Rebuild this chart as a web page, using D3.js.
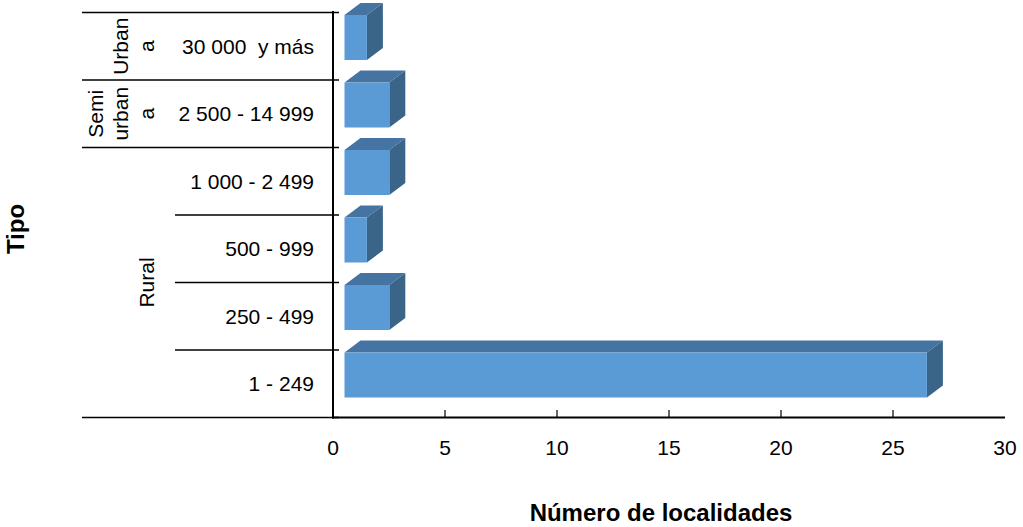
<!DOCTYPE html>
<html><head><meta charset="utf-8">
<script src="https://cdn.jsdelivr.net/npm/d3@7"></script>
<style>body{margin:0;background:#fff}svg{display:block;font-family:"Liberation Sans",Arial,sans-serif}text{white-space:pre}</style>
</head><body><svg id="c" width="1023" height="527"></svg>
<script>
const categories = ["30 000  y más","2 500 - 14 999","1 000 - 2 499","500 - 999","250 - 499","1 - 249"];
const values = [1, 2, 2, 1, 2, 26];
const groups = [
  {name:["Urban","a"], from:0, to:0},
  {name:["Semi","urban","a"], from:1, to:1},
  {name:["Rural"], from:2, to:5}
];
const xTicks = [0,5,10,15,20,25,30];

const svg = d3.select("#c");
const x = d3.scaleLinear().domain([0,30]).range([333,1005]);
const y = d3.scaleBand().domain(categories).range([12.5,417.5]).padding(0);
const dx = 16, dy = 12;
const frontC = "#5b9bd5", topC = "#4674a2", sideC = "#3b6489";
const fs = 21;

const g = svg.append("g");
categories.forEach((c,i)=>{
  const x0 = x(0)+11.5, x1 = x0 + (x(values[i])-x(0));
  const y0 = y(c)+2.5, y1 = y0+45;
  g.append("path").attr("d",`M${x0},${y0}L${x0+dx},${y0-dy}L${x1+dx},${y0-dy}L${x1},${y0}Z`).attr("fill",topC);
  g.append("path").attr("d",`M${x1},${y0}L${x1+dx},${y0-dy}L${x1+dx},${y1-dy}L${x1},${y1}Z`).attr("fill",sideC);
  g.append("rect").attr("x",x0).attr("y",y0).attr("width",x1-x0).attr("height",y1-y0).attr("fill",frontC);
});

const xa = svg.append("g");
xa.append("line").attr("x1",332).attr("x2",1005).attr("y1",417.5).attr("y2",417.5).attr("stroke","#000").attr("stroke-width",2);
xTicks.forEach(t=>{
  if(t>0 && t<30) xa.append("line").attr("x1",x(t)).attr("x2",x(t)).attr("y1",417).attr("y2",410).attr("stroke","#000").attr("stroke-width",1.2);
  xa.append("text").attr("x",x(t)).attr("y",455).attr("text-anchor","middle").attr("font-size",fs).text(t);
});

svg.append("line").attr("x1",333).attr("x2",333).attr("y1",11).attr("y2",418.5).attr("stroke","#000").attr("stroke-width",2);
const bounds = categories.map(c=>y(c)).concat([y.range()[1]]);
bounds.forEach((b,i)=>{
  const isGroupEdge = i===0 || i===1 || i===2 || i===6;
  svg.append("line").attr("x1",isGroupEdge?82:175).attr("x2",339).attr("y1",b).attr("y2",b).attr("stroke","#000").attr("stroke-width",1.5);
});
categories.forEach(c=>{
  svg.append("text").attr("x",314).attr("y",y(c)+y.bandwidth()/2+7.5).attr("text-anchor","end").attr("font-size",fs).text(c);
});
groups.forEach(gr=>{
  const cy = (y(categories[gr.from]) + y(categories[gr.to])+y.bandwidth())/2;
  const n = gr.name.length;
  const lh = 25.5;
  const lastX = 146 + 7.5;
  gr.name.forEach((ln,k)=>{
    const cx = lastX - (n-1-k)*lh;
    svg.append("text").attr("transform",`translate(${cx},${cy}) rotate(-90)`).attr("text-anchor","middle").attr("font-size",fs).text(ln);
  });
});

svg.append("text").attr("x",661).attr("y",521).attr("text-anchor","middle").attr("font-size",24).attr("font-weight","bold").text("Número de localidades");
svg.append("text").attr("transform","translate(24,229) rotate(-90)").attr("text-anchor","middle").attr("font-size",24).attr("font-weight","bold").text("Tipo");
</script></body></html>
